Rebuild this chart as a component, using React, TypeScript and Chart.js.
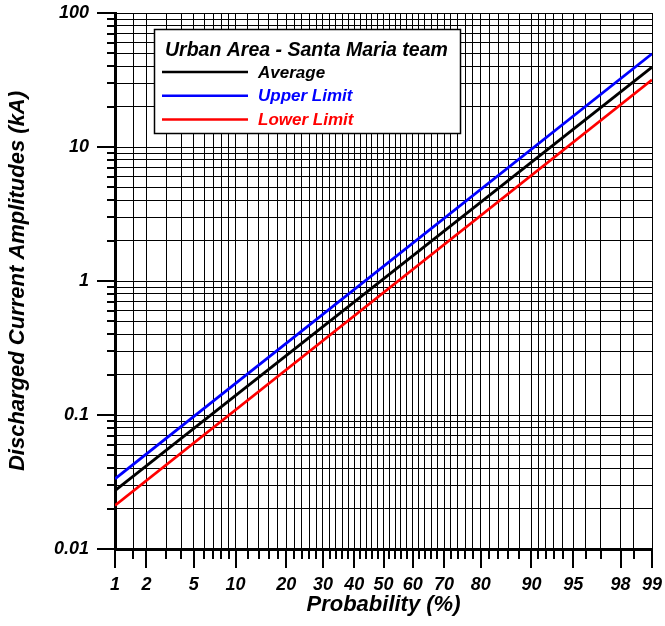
import React, { useEffect, useRef } from 'react';
import { Chart, registerables, LinearScale } from 'chart.js';

// ---------- data ----------
const PROBS = [1, 99];
const AVERAGE = [0.0273, 39.4];
const UPPER = [0.0334, 49.6];
const LOWER = [0.0211, 31.7];

const X_MAJOR = [1, 2, 5, 10, 20, 30, 40, 50, 60, 70, 80, 90, 95, 98, 99];
const X_MINOR = [1.5, 3, 4, 6, 7, 8, 9, 12, 14, 16, 18, 22, 24, 26, 28, 32, 34, 36, 38, 42, 44, 46, 48, 52, 54, 56, 58, 62, 64, 66, 68, 72, 74, 76, 78, 82, 84, 86, 88, 91, 92, 93, 94, 96, 97, 98.5];
const Y_MAJOR = [0.01, 0.1, 1, 10, 100];
const Y_LABELS = ['0.01', '0.1', '1', '10', '100'];
const Y_MINOR_STEPS = [2, 3, 4, 5, 6, 7, 8, 9];

const LEGEND_TITLE = 'Urban Area - Santa Maria team';
const FAMILY = '"Liberation Sans", Arial, sans-serif';

// ---------- probability (normal) scale ----------
function probit(p: number): number {
  p = Math.min(Math.max(p, 1e-9), 1 - 1e-9);
  const a = [-3.969683028665376e1, 2.209460984245205e2, -2.759285104469687e2, 1.38357751867269e2, -3.066479806614716e1, 2.506628277459239];
  const b = [-5.447609879822406e1, 1.615858368580409e2, -1.556989798598866e2, 6.680131188771972e1, -1.328068155288572e1];
  const c = [-7.784894002430293e-3, -3.223964580411365e-1, -2.400758277161838, -2.549732539343734, 4.374664141464968, 2.938163982698783];
  const d = [7.784695709041462e-3, 3.224671290700398e-1, 2.445134137142996, 3.754408661907416];
  const pl = 0.02425;
  if (p < pl) {
    const q = Math.sqrt(-2 * Math.log(p));
    return (((((c[0] * q + c[1]) * q + c[2]) * q + c[3]) * q + c[4]) * q + c[5]) / ((((d[0] * q + d[1]) * q + d[2]) * q + d[3]) * q + 1);
  }
  if (p <= 1 - pl) {
    const q = p - 0.5;
    const r = q * q;
    return ((((((a[0] * r + a[1]) * r + a[2]) * r + a[3]) * r + a[4]) * r + a[5]) * q) / (((((b[0] * r + b[1]) * r + b[2]) * r + b[3]) * r + b[4]) * r + 1);
  }
  const q = Math.sqrt(-2 * Math.log(1 - p));
  return -(((((c[0] * q + c[1]) * q + c[2]) * q + c[3]) * q + c[4]) * q + c[5]) / ((((d[0] * q + d[1]) * q + d[2]) * q + d[3]) * q + 1);
}

function normCdf(z: number): number {
  const t = 1 / (1 + 0.3275911 * Math.abs(z) / Math.SQRT2);
  const y = 1 - (((((1.061405429 * t - 1.453152027) * t + 1.421413741) * t - 0.284496736) * t + 0.254829592) * t) * Math.exp(-(z * z) / 2);
  return z >= 0 ? 0.5 * (1 + y) : 0.5 * (1 - y);
}

class ProbabilityScale extends (LinearScale as any) {
  static id = 'probability';
  static defaults = {};
  buildTicks() {
    return [...X_MAJOR, ...X_MINOR].sort((p, q) => p - q).map((v) => ({ value: v }));
  }
  configure() {
    super.configure();
    (this as any)._zMin = probit(this.min / 100);
    (this as any)._zMax = probit(this.max / 100);
  }
  getPixelForValue(value: number) {
    const zMin = (this as any)._zMin;
    const zMax = (this as any)._zMax;
    return this.getPixelForDecimal((probit(value / 100) - zMin) / (zMax - zMin));
  }
  getValueForPixel(pixel: number) {
    const zMin = (this as any)._zMin;
    const zMax = (this as any)._zMax;
    return 100 * normCdf(zMin + this.getDecimalForPixel(pixel) * (zMax - zMin));
  }
}

Chart.register(...registerables, ProbabilityScale as any);

const isMajorX = (v: number) => X_MAJOR.some((m) => Math.abs(m - v) < 1e-9);
const yMajorIndex = (v: number) => Y_MAJOR.findIndex((m) => Math.abs(Math.log10(m) - Math.log10(v)) < 1e-6);

const tickMarks = {
  id: 'tickMarks',
  afterDraw(chart: any) {
    const { ctx, chartArea, scales } = chart;
    ctx.save();
    ctx.strokeStyle = '#000';
    ctx.lineWidth = 2;
    ctx.beginPath();
    for (const t of scales.x.ticks) {
      const px = Math.round(scales.x.getPixelForValue(t.value));
      const len = isMajorX(t.value) ? 19 : 10;
      ctx.moveTo(px, chartArea.bottom);
      ctx.lineTo(px, chartArea.bottom + len);
    }
    for (const t of scales.y.ticks) {
      const py = Math.round(scales.y.getPixelForValue(t.value));
      const len = yMajorIndex(t.value) >= 0 ? 18 : 8;
      ctx.moveTo(chartArea.left - len, py);
      ctx.lineTo(chartArea.left, py);
    }
    ctx.stroke();
    ctx.restore();
  },
};

const legendBox = {
  id: 'legendBox',
  afterDatasetsDraw(chart: any) {
    const { ctx } = chart;
    const x0 = 154, y0 = 29, w = 306, h = 104;
    ctx.save();
    ctx.fillStyle = '#fff';
    ctx.fillRect(x0, y0, w, h);
    ctx.strokeStyle = '#000';
    ctx.lineWidth = 1.5;
    ctx.strokeRect(x0 + 0.5, y0 + 0.5, w, h);
    ctx.fillStyle = '#000';
    ctx.textBaseline = 'alphabetic';
    ctx.textAlign = 'left';
    ctx.font = `italic bold 19.5px ${FAMILY}`;
    ctx.fillText(LEGEND_TITLE, x0 + 11, y0 + 27);
    ctx.font = `italic bold 17px ${FAMILY}`;
    ctx.textBaseline = 'middle';
    chart.data.datasets.forEach((ds: any, i: number) => {
      const y = y0 + 43 + i * 23.7;
      ctx.strokeStyle = ds.borderColor;
      ctx.lineWidth = 2.5;
      ctx.beginPath();
      ctx.moveTo(x0 + 8, y);
      ctx.lineTo(x0 + 94, y);
      ctx.stroke();
      ctx.fillStyle = ds.borderColor;
      ctx.fillText(ds.label, x0 + 104, y + 1);
    });
    ctx.restore();
  },
};

const tickFont = { family: FAMILY, size: 18, weight: 'bold' as const, style: 'italic' as const };
const titleFont = { family: FAMILY, size: 22, weight: 'bold' as const, style: 'italic' as const };
const GRID = '#000000';

const zeroPad = (s: any) => {
  s.paddingLeft = 0;
  s.paddingRight = 0;
  s.paddingTop = 0;
  s.paddingBottom = 0;
};

export default function App() {
  const ref = useRef<HTMLCanvasElement>(null);
  useEffect(() => {
    const mk = (label: string, vals: number[], color: string) => ({
      label,
      data: PROBS.map((p, i) => ({ x: p, y: vals[i] })),
      borderColor: color,
      backgroundColor: color,
      borderWidth: 2.75,
      pointRadius: 0,
      fill: false,
      tension: 0,
    });
    const chart = new Chart(ref.current as HTMLCanvasElement, {
      type: 'line',
      data: {
        datasets: [
          mk('Average', AVERAGE, '#000000'),
          mk('Upper Limit', UPPER, '#0000ff'),
          mk('Lower Limit', LOWER, '#ff0000'),
        ],
      },
      options: {
        responsive: false,
        animation: false,
        devicePixelRatio: 1,
        layout: { padding: { top: 13, right: 13, left: 0, bottom: 0 } },
        plugins: { legend: { display: false }, tooltip: { enabled: false } },
        scales: {
          x: {
            type: 'probability' as any,
            position: 'bottom',
            min: 1,
            max: 99,
            afterFit: (s: any) => { s.height = 77; zeroPad(s); },
            grid: { color: GRID, lineWidth: 1, drawTicks: false },
            border: { display: true, color: '#000', width: 3 },
            ticks: {
              autoSkip: false,
              maxRotation: 0,
              minRotation: 0,
              padding: 25,
              color: '#000',
              font: tickFont,
              callback: (v: any) => (isMajorX(Number(v)) ? String(v) : ''),
            },
            title: { display: true, text: 'Probability (%)', color: '#000', font: titleFont, padding: { top: 0, bottom: 8 } },
          } as any,
          y: {
            type: 'logarithmic',
            min: 0.01,
            max: 100,
            afterBuildTicks: (s: any) => {
              const t: any[] = [];
              Y_MAJOR.forEach((m, i) => {
                t.push({ value: m });
                if (i < Y_MAJOR.length - 1) Y_MINOR_STEPS.forEach((k) => t.push({ value: m * k }));
              });
              s.ticks = t;
            },
            afterFit: (s: any) => { s.width = 115; zeroPad(s); },
            grid: { color: GRID, lineWidth: 1, drawTicks: false },
            border: { display: true, color: '#000', width: 3 },
            ticks: {
              autoSkip: false,
              padding: 26,
              color: '#000',
              font: tickFont,
              callback: (v: any) => {
                const i = yMajorIndex(Number(v));
                return i >= 0 ? Y_LABELS[i] : '';
              },
            },
            title: { display: true, text: 'Discharged Current Amplitudes (kA)', color: '#000', font: titleFont, padding: { top: 5, bottom: 0 } },
          } as any,
        },
      },
      plugins: [legendBox, tickMarks],
    } as any);
    return () => chart.destroy();
  }, []);
  return (
    <div style={{ position: 'fixed', left: 0, top: 0, width: 665, height: 626, background: '#fff' }}>
      <canvas ref={ref} width={665} height={626} style={{ display: 'block' }} />
    </div>
  );
}
